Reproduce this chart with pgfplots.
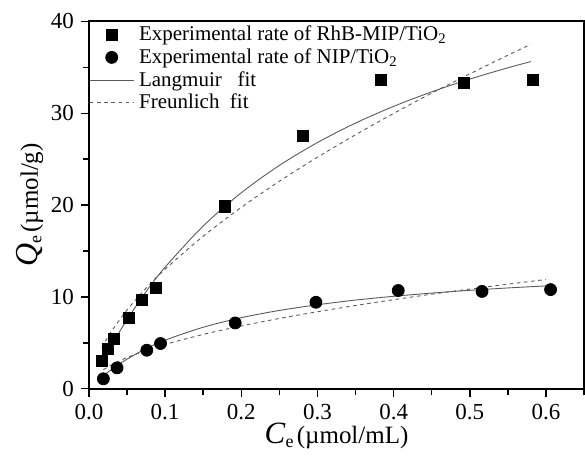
\documentclass[border=0pt]{standalone}
\usepackage{fontspec}
\setmainfont{Liberation Serif}
\usepackage{pgfplots}
\pgfplotsset{compat=1.18}
\definecolor{fitgray}{RGB}{90,90,90}
\pgfplotsset{
    fitline/.style={legend image code/.code={\draw[##1] (0pt,0pt) -- (22pt,0pt);}},
    markleg/.style={legend image code/.code={\draw[##1] plot coordinates {(11pt,0pt)};}},
}

\begin{document}
\begin{tikzpicture}
\begin{axis}[
    scale only axis,
    width=248pt, height=184pt,
    xmin=0, xmax=0.65, ymin=0, ymax=40,
    xtick={0,0.1,...,0.6}, ytick={0,10,...,40},
    minor xtick={0.05,0.15,...,0.65}, minor ytick={5,15,25,35},
    xtick pos=left, ytick pos=left, tick align=outside,
    major tick length=4pt, minor tick length=3pt,
    axis line style={line width=0.9pt}, tick style={line width=0.7pt, black},
    xticklabel style={/pgf/number format/.cd, fixed, fixed zerofill, precision=1},
    /pgf/number format/assume math mode=true,
    tick label style={font=\fontsize{11.5}{12}\selectfont},
    xlabel={{\fontsize{15.5}{15}\selectfont\textit{C}}\raisebox{-0.4ex}{\fontsize{9}{9}\selectfont e}\,{\fontsize{12.5}{13}\selectfont(µmol/mL)}},
    ylabel={{\fontsize{16}{15}\selectfont\textit{Q}}\raisebox{-0.4ex}{\fontsize{9}{9}\selectfont e}\,{\fontsize{12.5}{13}\selectfont(µmol/g)}},
    xlabel style={yshift=5pt},
    ylabel style={yshift=-3pt},
    legend style={at={(0,1)}, anchor=north west, draw=none, fill=none,
        font=\fontsize{10.5}{11}\selectfont, row sep=-1.5pt, inner xsep=0pt, inner ysep=0pt,
        nodes={inner xsep=2.5pt, inner ysep=2pt}},
    legend cell align=left,
    fitline,
]
\addplot[only marks, mark=square*, mark size=2.8pt, black, markleg] coordinates {
    (0.017,3.08) (0.025,4.35) (0.033,5.43) (0.052,7.75) (0.070,9.64)
    (0.088,11.0) (0.179,19.86) (0.281,27.5) (0.383,33.6) (0.492,33.3) (0.583,33.6)
};
\addlegendentry{Experimental rate of RhB-MIP/TiO\textsubscript{2}}
\addplot[only marks, mark=*, mark size=3pt, black, markleg] coordinates {
    (0.019,1.09) (0.037,2.28) (0.076,4.2) (0.094,4.93) (0.192,7.17)
    (0.298,9.42) (0.406,10.7) (0.516,10.6) (0.606,10.8)
};
\addlegendentry{Experimental rate of NIP/TiO\textsubscript{2}}
% Langmuir fits
\addplot[fitgray, line width=0.45pt, smooth] coordinates {
    (0.017,2.81) (0.03,4.78) (0.05,7.52) (0.075,10.57) (0.1,13.24) (0.15,17.72)
    (0.2,21.34) (0.25,24.32) (0.3,26.81) (0.35,28.93) (0.4,30.75) (0.45,32.33)
    (0.5,33.72) (0.55,34.95) (0.58,35.62)
};
\addlegendentry{Langmuir\ \ \ fit}
% Freundlich fits
\addplot[fitgray, line width=0.45pt, smooth, dash pattern=on 1.8pt off 1.8pt] coordinates {
    (0.017,4.48) (0.03,6.30) (0.05,8.58) (0.075,10.95) (0.1,13.02) (0.15,16.61)
    (0.2,19.75) (0.25,22.60) (0.3,25.21) (0.35,27.66) (0.4,29.98) (0.45,32.19)
    (0.5,34.29) (0.55,36.32) (0.58,37.50)
};
\addlegendentry{Freunlich\ \ fit}
\addplot[fitgray, line width=0.45pt, smooth, forget plot] coordinates {
    (0.019,1.43) (0.04,2.71) (0.07,4.16) (0.1,5.29) (0.15,6.70) (0.2,7.74)
    (0.25,8.53) (0.3,9.15) (0.35,9.66) (0.4,10.07) (0.45,10.42) (0.5,10.72)
    (0.55,10.98) (0.6,11.20)
};
\addplot[fitgray, line width=0.45pt, smooth, dash pattern=on 1.8pt off 1.8pt, forget plot] coordinates {
    (0.019,2.09) (0.04,3.04) (0.07,4.03) (0.1,4.83) (0.15,5.92) (0.2,6.84)
    (0.25,7.66) (0.3,8.39) (0.35,9.07) (0.4,9.70) (0.45,10.30) (0.5,10.86)
    (0.55,11.39) (0.6,11.90)
};
\end{axis}
\path (current bounding box.north west) ++(-5pt,3.5pt);
\end{tikzpicture}
\end{document}
